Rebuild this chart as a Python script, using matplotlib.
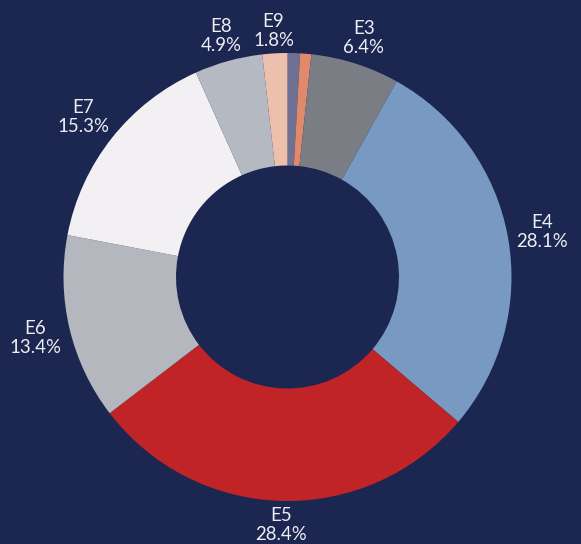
import matplotlib
matplotlib.use("Agg")
import matplotlib.pyplot as plt
import numpy as np

labels = ["E1", "E2", "E3", "E4", "E5", "E6", "E7", "E8", "E9"]
values = [0.9, 0.8, 6.4, 28.1, 28.4, 13.4, 15.3, 4.9, 1.8]
show_label = [False, False, True, True, True, True, True, True, True]
colors = ["#6e7193", "#e0896b", "#7a7d84", "#7799c2", "#c02427",
          "#b4b7be", "#f2f0f3", "#b5b9c1", "#ecc0ac"]
bg = "#1b2651"

W, H = 581, 544
cx, cy, R = 287.5, 277, 224
fig = plt.figure(figsize=(W / 100, H / 100), dpi=100, facecolor=bg)
ax = fig.add_axes([0, 0, 1, 1])
ax.set_facecolor(bg)
ax.axis("off")

wedges, _ = ax.pie(values, colors=colors, startangle=90, counterclock=False,
                   radius=1, wedgeprops=dict(width=1 - 111.5 / 224, linewidth=0))
ax.set_xlim(-cx / R, (W - cx) / R)
ax.set_ylim(-(H - cy) / R, cy / R)
ax.set_aspect("auto")

fs = 13.4
fam = ["Lato", "DejaVu Sans"]
tcol = "#eeeef2"
pitch = 19.0      # px between baselines
cap = 13.3        # px cap height
d_anchor = 230.0  # px from centre to nearest edge of the label box

fig.canvas.draw()
renderer = fig.canvas.get_renderer()
total = sum(values)
for w, lab, v, s in zip(wedges, labels, values, show_label):
    if not s:
        continue
    l1, l2 = lab, f"{v / total * 100:.1f}%"
    t1 = ax.text(0, 0, l1, ha="center", va="baseline", color=tcol,
                 fontsize=fs, family=fam)
    t2 = ax.text(0, 0, l2, ha="center", va="baseline", color=tcol,
                 fontsize=fs, family=fam)
    wpx = max(t1.get_window_extent(renderer).width,
              t2.get_window_extent(renderer).width)
    hpx = cap + pitch
    ang = np.deg2rad((w.theta1 + w.theta2) / 2)
    c, sn = np.cos(ang), np.sin(ang)
    dist = d_anchor + abs(c) * wpx / 2 + abs(sn) * hpx / 2
    x = dist * c
    yc = dist * sn
    b2 = yc - hpx / 2
    b1 = b2 + pitch
    t1.set_position((x / R, b1 / R))
    t2.set_position((x / R, b2 / R))

fig.savefig("out.png", dpi=100, facecolor=bg)
